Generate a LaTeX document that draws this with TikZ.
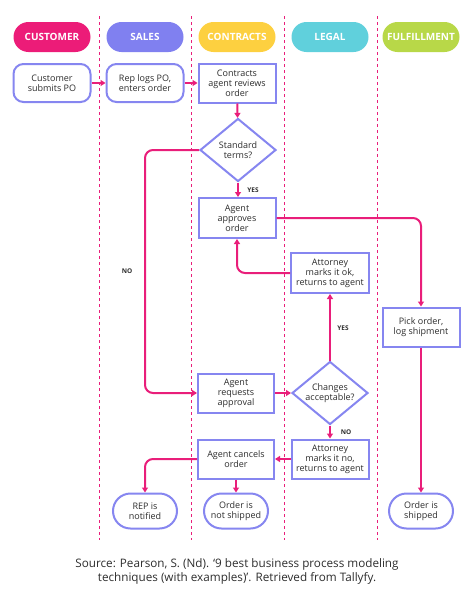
\documentclass[tikz,border=0pt]{standalone}
\usepackage{fontspec}
\setmainfont{Open Sans}
\usetikzlibrary{arrows.meta,
	calc,
	shapes}
\definecolor{flowpink}{RGB}{233,30,122}
\definecolor{boxblue}{RGB}{134,134,240}
\definecolor{custpink}{RGB}{236,28,120}
\definecolor{salesblue}{RGB}{128,128,240}
\definecolor{contryellow}{RGB}{253,208,64}
\definecolor{legalcyan}{RGB}{96,208,220}
\definecolor{fulfgreen}{RGB}{184,216,72}
\definecolor{inkgray}{RGB}{45,45,45}

\begin{document}
\begin{tikzpicture}[x=1pt,y=-1pt]
      \tikzstyle{header}=[rounded rectangle,minimum width=77pt,minimum height=30pt,inner sep=0pt,text=white,font=\fontsize{10}{12}\selectfont\bfseries]
      \tikzstyle{task}=[rectangle,draw=boxblue,line width=2pt,fill=white,minimum width=77pt,minimum height=39pt,inner sep=0pt,align=center,text=inkgray,font=\fontsize{9}{10}\selectfont]
      \tikzstyle{start}=[task,rounded corners=10pt,minimum height=38pt]
      \tikzstyle{stop}=[task,rounded rectangle,minimum width=64pt,minimum height=35pt]
      \tikzstyle{decision}=[diamond,draw=boxblue,line width=2pt,fill=white,aspect=1.2,minimum width=76pt,minimum height=63pt,inner sep=0pt,align=center,text=inkgray,font=\fontsize{9}{10}\selectfont]
      \tikzstyle{flow}=[color=flowpink,line width=2pt,rounded corners=8pt,-{Triangle[length=5pt,width=6pt]}]
      \tikzstyle{lane}=[color=flowpink,line width=0.8pt,dash pattern=on 3pt off 3pt]
      \tikzstyle{answer}=[font=\fontsize{6.5}{8}\selectfont\bfseries,text=inkgray]
      \useasboundingbox (0,0) rectangle (474,613);
      % lanes
      \foreach \x in {99,191,284,377}
        \draw[lane] (\x,16) -- (\x,540);
      \node[header,fill=custpink] (hd_cust) at (52,37) {CUSTOMER};
      \node[header,fill=salesblue] (hd_sales) at (145,37) {SALES};
      \node[header,fill=contryellow] (hd_contr) at (237,37) {CONTRACTS};
      \node[header,fill=legalcyan] (hd_legal) at (330,37) {LEGAL};
      \node[header,fill=fulfgreen] (hd_fulf) at (421,37) {FULFILLMENT};
      % steps
      \node[start] (po_submit) at (52,83) {Customer\\submits PO};
      \node[start] (rep_logs) at (145,83) {Rep logs PO,\\enters order};
      \node[task] (agent_review) at (237,83) {Contracts\\agent reviews\\order};
      \node[decision] (std_terms) at (238,150) {Standard\\terms?};
      \node[task,minimum height=40pt] (agent_ok) at (237,218) {Agent\\approves\\order};
      \node[task,minimum width=78pt,minimum height=40pt] (atty_ok) at (330,273) {Attorney\\marks it ok,\\returns to agent};
      \node[task] (pick_order) at (421,327) {Pick order,\\log shipment};
      \node[task,minimum width=76pt] (agent_req) at (236,393) {Agent\\requests\\approval};
      \node[decision] (changes_ok) at (330,393) {Changes\\acceptable?};
      \node[task] (atty_no) at (330,459) {Attorney\\marks it no,\\returns to agent};
      \node[task,minimum width=76pt] (agent_cancel) at (236,459) {Agent cancels\\order};
      \node[stop] (rep_notified) at (145,511) {REP is\\notified};
      \node[stop] (not_shipped) at (236,511) {Order is\\not shipped};
      \node[stop] (shipped) at (421,511) {Order is\\shipped};
      \coordinate (no_x) at (145,0);
      % arrows
      \draw[flow] (po_submit) -- (rep_logs);
      \draw[flow] (rep_logs) -- (agent_review);
      \draw[flow] (agent_review) -- (std_terms);
      \draw[flow] (std_terms.south) -- (std_terms.south |- agent_ok.north);
      \draw[flow] (std_terms.west) -- (std_terms.west -| no_x) |- (agent_req.west);
      \draw[flow] (agent_ok.east) -| (pick_order.north);
      \draw[flow] (atty_ok.west) -| (agent_ok.south);
      \draw[flow] (changes_ok.north) -- (atty_ok.south);
      \draw[flow] (agent_req.east) -- (changes_ok.west);
      \draw[flow] (changes_ok.south) -- (atty_no.north);
      \draw[flow] (atty_no.west) -- (agent_cancel.east);
      \draw[flow] (agent_cancel.west) -| (rep_notified.north);
      \draw[flow] (agent_cancel.south) -- (not_shipped.north);
      \draw[flow] (pick_order.south) -- (shipped.north);
      \node[answer] (yes_1) at (253,190) {YES};
      \node[answer] (no_1) at (127,271) {NO};
      \node[answer] (yes_2) at (343,328) {YES};
      \node[answer] (no_2) at (346,432) {NO};
      % source
      \node[align=center,text=inkgray,font=\fontsize{11.7}{14}\selectfont] (source) at (237,571) {Source: Pearson, S. (Nd). ‘9 best business process modeling\\techniques (with examples)’. Retrieved from Tallyfy.};
    \end{tikzpicture}
\end{document}
